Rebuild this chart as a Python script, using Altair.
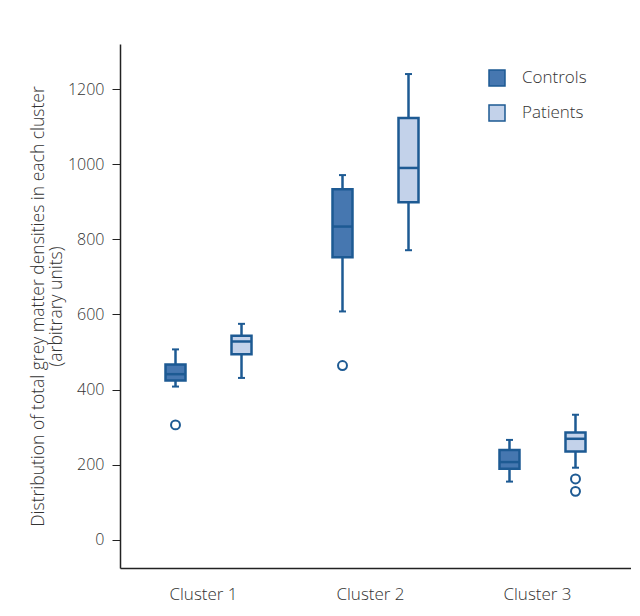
import altair as alt
import pandas as pd

clusters = ["Cluster 1", "Cluster 1", "Cluster 2", "Cluster 2", "Cluster 3", "Cluster 3"]
groups = ["Controls", "Patients", "Controls", "Patients", "Controls", "Patients"]
whisker_low = [408, 431, 608, 771, 155, 192]
q1 = [424, 494, 752, 899, 189, 235]
median = [441, 528, 834, 990, 207, 269]
q3 = [467, 543, 933, 1123, 239, 286]
whisker_high = [507, 575, 971, 1240, 266, 333]

out_cluster = ["Cluster 1", "Cluster 2", "Cluster 3", "Cluster 3"]
out_group = ["Controls", "Controls", "Patients", "Patients"]
out_value = [306, 464, 162, 129]

group_order = ["Controls", "Patients"]
fill_colors = ["#4677b0", "#c3d2ea"]
stroke_col = "#1d5a93"
txt = "#333333"
font = "Open Sans"
fw = 300

stats = pd.DataFrame({
    "cluster": clusters, "group": groups, "lo": whisker_low, "q1": q1,
    "med": median, "q3": q3, "hi": whisker_high,
})
outs = pd.DataFrame({"cluster": out_cluster, "group": out_group, "val": out_value})

x_enc = alt.X("cluster:N", sort=["Cluster 1", "Cluster 2", "Cluster 3"],
              scale=alt.Scale(paddingInner=0, paddingOuter=0.03),
              axis=alt.Axis(title=None, ticks=False, labelAngle=0, labelPadding=18,
                            labelOffset=-5, labelFontSize=17, labelColor=txt, labelFont=font,
                            labelFontWeight=fw, domainColor="#222222", domainWidth=1.5))
xo_enc = alt.XOffset("group:N", sort=group_order,
                     scale=alt.Scale(domain=group_order, paddingInner=0, paddingOuter=0.265))

y_axis = alt.Axis(values=[0, 200, 400, 600, 800, 1000, 1200], format="d", grid=False,
                  tickSize=8, tickColor="#222222", domainColor="#222222", domainWidth=1.5,
                  labelFontSize=16, labelColor=txt, labelFont=font, labelFontWeight=fw,
                  labelPadding=8,
                  title=["Distribution of total grey matter densities in each cluster",
                         "(arbitrary units)"],
                  titleFontSize=17.5, titleFontWeight=fw, titleColor=txt,
                  titleFont=font, titlePadding=2, titleLineHeight=18)
y_scale = alt.Scale(domain=[-75, 1320], nice=False, zero=False)


def yq(field):
    return alt.Y(f"{field}:Q", scale=y_scale, axis=y_axis)


base = alt.Chart(stats)

whisk = base.mark_rule(color=stroke_col, strokeWidth=2.5).encode(
    x=x_enc, xOffset=xo_enc, y=yq("lo"), y2="hi:Q")

box = base.mark_bar(size=20, stroke=stroke_col, strokeWidth=2.5).encode(
    x=x_enc, xOffset=xo_enc, y=yq("q1"), y2="q3:Q",
    fill=alt.Fill("group:N", sort=group_order,
                  scale=alt.Scale(domain=group_order, range=fill_colors),
                  legend=alt.Legend(title=None, orient="none", legendX=368, legendY=25,
                                    symbolType="square", symbolSize=256,
                                    symbolStrokeColor=stroke_col, symbolStrokeWidth=1.5,
                                    symbolOpacity=1, labelFontSize=17, labelColor=txt,
                                    labelFont=font, labelFontWeight=fw, labelOffset=16,
                                    rowPadding=13, padding=0)))

med = base.mark_tick(color=stroke_col, thickness=2.5, size=20, opacity=1).encode(
    x=x_enc, xOffset=xo_enc, y=yq("med"))

caps = base.transform_fold(["lo", "hi"], as_=["which", "capv"]).mark_tick(
    color=stroke_col, thickness=2, size=7, opacity=1).encode(
    x=x_enc, xOffset=xo_enc, y=yq("capv"))

pts = alt.Chart(outs).mark_point(shape="circle", filled=False, color=stroke_col,
                                 strokeWidth=2, size=80, opacity=1).encode(
    x=x_enc, xOffset=xo_enc, y=yq("val"))

chart = alt.layer(whisk, box, med, caps, pts).properties(
    width=511, height=524,
    padding={"left": 21, "top": 36, "right": 0, "bottom": 4},
).configure_view(stroke=None)

chart.save("out.html", embed_options={"renderer": "svg", "actions": False})
